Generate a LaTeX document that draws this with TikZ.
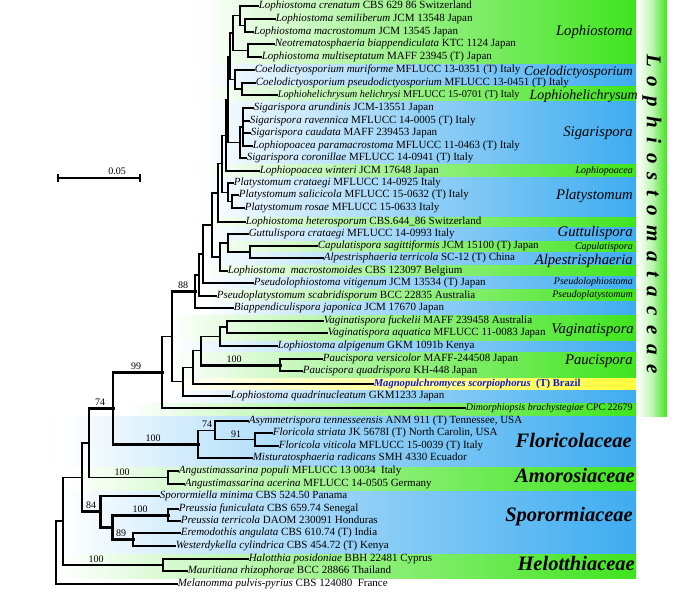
\documentclass[tikz,border=0pt]{standalone}
\usepackage{fontspec}
\setmainfont{Liberation Serif}
\usetikzlibrary{calc}
\definecolor{gr}{RGB}{64,228,30}
\definecolor{bl}{RGB}{62,172,240}
\definecolor{yl}{RGB}{255,255,60}
\definecolor{mb}{RGB}{20,20,200}
\newcommand{\lf}{\fontsize{11bp}{12bp}\selectfont}
\newcommand{\bsf}{\fontsize{10bp}{11bp}\selectfont}
\newcommand{\genf}{\fontsize{14.7bp}{16bp}\selectfont\itshape}
\newcommand{\gensf}{\fontsize{10bp}{11bp}\selectfont\itshape}
\newcommand{\famf}{\fontsize{20.5bp}{22bp}\selectfont\bfseries\itshape}
\newcommand{\spn}[1]{\textit{#1}}
\newcommand{\mybandx}[4]{\shade[left color=white,right color=#3,middle color=#3!55] (#4,#1) rectangle (636,#2);}
\newcommand{\edg}[3][brn]{\draw[#1] (#2 |- #3) -- (#3);}
\newcommand{\vln}[4][brn]{\draw[#1] (#2 |- #3) -- (#2 |- #4);}
\begin{document}
\begin{tikzpicture}[x=1bp,y=-1bp,
  brn/.style={line width=1.3bp,line cap=rect},
  brb/.style={line width=3bp,line cap=rect},
  leaf/.style={anchor=west,inner xsep=0.6bp,inner ysep=0pt,font=\lf,text height=7.6bp,text depth=2.5bp},
  bs/.style={anchor=south,inner sep=1bp,font=\bsf},
  gen/.style={anchor=east,inner sep=0pt,font=\genf,text height=10bp,text depth=3.5bp},
  gens/.style={anchor=east,inner sep=0pt,font=\gensf,text height=7bp,text depth=2.4bp},
  fam/.style={anchor=east,inner sep=0pt,font=\famf,text height=14bp,text depth=4.5bp}]
\useasboundingbox (0,0) rectangle (678,603);
% background bands
\mybandx{0}{65}{gr}{200}
\mybandx{65}{87}{bl}{200}
\mybandx{87}{102}{gr}{200}
\mybandx{102}{165}{bl}{200}
\mybandx{165}{178}{gr}{200}
\mybandx{178}{217}{bl}{200}
\mybandx{217}{227}{gr}{200}
\mybandx{227}{241}{bl}{200}
\mybandx{241}{252}{gr}{200}
\mybandx{252}{265}{bl}{200}
\mybandx{265}{276}{gr}{200}
\mybandx{276}{289}{bl}{200}
\mybandx{289}{301}{gr}{200}
\mybandx{301}{315}{bl}{200}
\mybandx{315}{341}{gr}{170}
\mybandx{341}{352}{bl}{170}
\mybandx{352}{378}{gr}{170}
\mybandx{378}{390}{yl}{170}
\mybandx{390}{403}{bl}{170}
\mybandx{403}{416}{gr}{130}
\mybandx{416}{467}{bl}{60}
\mybandx{467}{491}{gr}{70}
\mybandx{491}{554}{bl}{60}
\mybandx{554}{578}{gr}{60}
% family bar
\shade[left color=white,right color=gr,middle color=gr!35] (637,0) rectangle (667,416);
\node[rotate=-90,inner sep=0pt,font=\fontsize{21bp}{21bp}\selectfont\bfseries\itshape\addfontfeature{LetterSpace=45}] (fam) at (652,214) {Lophiostomataceae};
% leaves
\node[leaf] (l1) at (258,6) {\spn{Lophiostoma crenatum} CBS 629 86\ Switzerland};
\node[leaf] (l2) at (275,19) {\spn{Lophiostoma semiliberum} JCM 13548\ Japan};
\node[leaf] (l3) at (253,32) {\spn{Lophiostoma macrostomum} JCM 13545\ Japan};
\node[leaf] (l4) at (274,44) {\spn{Neotrematosphaeria biappendiculata} KTC 1124\ Japan};
\node[leaf] (l5) at (261,57) {\spn{Lophiostoma multiseptatum} MAFF 23945 (T) Japan};
\node[leaf] (l6) at (254,70) {\spn{Coelodictyosporium muriforme} MFLUCC 13-0351 (T) Italy};
\node[leaf] (l7) at (255,83) {\spn{Coelodictyosporium pseudodictyosporium} MFLUCC 13-0451 (T) Italy};
\node[leaf,font=\fontsize{10.3bp}{12bp}\selectfont] (l8) at (277,95) {\spn{Lophiohelichrysum helichrysi} MFLUCC 15-0701 (T)\ Italy};
\node[leaf] (l9) at (253,108) {\spn{Sigarispora arundinis} JCM-13551\ Japan};
\node[leaf] (l10) at (249,121) {\spn{Sigarispora ravennica} MFLUCC 14-0005 (T) Italy};
\node[leaf] (l11) at (250,133) {\spn{Sigarispora caudata} MAFF 239453\ Japan};
\node[leaf] (l12) at (252,146) {\spn{Lophiopoacea paramacrostoma} MFLUCC 11-0463 (T) Italy};
\node[leaf] (l13) at (246,158) {\spn{Sigarispora coronillae} MFLUCC 14-0941\ (T) Italy};
\node[leaf] (l14) at (259,171) {\spn{Lophiopoacea winteri} JCM 17648\ Japan};
\node[leaf] (l15) at (233,183) {\spn{Platystomum crataegi} MFLUCC 14-0925\ Italy};
\node[leaf] (l16) at (238,195) {\spn{Platystomum salicicola} MFLUCC 15-0632 (T) Italy};
\node[leaf] (l17) at (244,208) {\spn{Platystomum rosae} MFLUCC 15-0633\ Italy};
\node[leaf] (l18) at (245,222) {\spn{Lophiostoma heterosporum} CBS.644\_86\ Switzerland};
\node[leaf] (l19) at (248,234) {\spn{Guttulispora crataegi} MFLUCC 14-0993 Italy};
\node[leaf] (l20) at (317,246) {\spn{Capulatispora sagittiformis} JCM 15100 (T) Japan};
\node[leaf] (l21) at (323,258) {\spn{Alpestrisphaeria terricola} SC-12 (T) China};
\node[leaf] (l22) at (227,271) {\spn{Lophiostoma\ \ macrostomoides} CBS 123097\ Belgium};
\node[leaf] (l23) at (253,283) {\spn{Pseudolophiostoma vitigenum} JCM 13534 (T) Japan};
\node[leaf] (l24) at (216,296) {\spn{Pseudoplatystomum scabridisporum} BCC 22835\ Australia};
\node[leaf] (l25) at (233,308) {\spn{Biappendiculispora japonica} JCM 17670 Japan};
\node[leaf] (l26) at (323,321) {\spn{Vaginatispora fuckelii}\ MAFF 239458\ Australia};
\node[leaf] (l27) at (327,333) {\spn{Vaginatispora aquatica}\ MFLUCC 11-0083\ Japan};
\node[leaf] (l28) at (277,346) {\spn{Lophiostoma alpigenum} GKM 1091b\ Kenya};
\node[leaf] (l29) at (322,359) {\spn{Paucispora versicolor} MAFF-244508\ Japan};
\node[leaf] (l30) at (302,371) {\spn{Paucispora quadrispora} KH-448\ Japan};
\node[leaf,text=mb,font=\fontsize{10.6bp}{12bp}\selectfont\bfseries] (l31) at (373,384) {\spn{Magnopulchromyces scorpiophorus}\ \ (T) Brazil};
\node[leaf] (l32) at (230,396) {\spn{Lophiostoma quadrinucleatum} GKM1233\ Japan};
\node[leaf,font=\fontsize{10bp}{11bp}\selectfont] (l33) at (465,408) {\spn{Dimorphiopsis brachystegiae} CPC 22679};
\node[leaf] (l34) at (248,421) {\spn{Asymmetrispora tennesseensis} ANM 911 (T) Tennessee, USA};
\node[leaf] (l35) at (272,433) {\spn{Floricola striata} JK 5678I (T) North Carolin, USA};
\node[leaf] (l36) at (278,446) {\spn{Floricola viticola} MFLUCC 15-0039 (T) Italy};
\node[leaf] (l37) at (252,458) {\spn{Misturatosphaeria radicans} SMH 4330\ Ecuador};
\node[leaf] (l38) at (178,471) {\spn{Angustimassarina populi} MFLUCC 13 0034\ \ Italy};
\node[leaf] (l39) at (184,484) {\spn{Angustimassarina acerina} MFLUCC 14-0505\ Germany};
\node[leaf] (l40) at (159,496) {\spn{Sporormiella minima} CBS 524.50\ Panama};
\node[leaf] (l41) at (178,509) {\spn{Preussia funiculata} CBS 659.74\ Senegal};
\node[leaf] (l42) at (180,521) {\spn{Preussia terricola} DAOM 230091\ Honduras};
\node[leaf] (l43) at (180,533) {\spn{Eremodothis angulata} CBS 610.74\ (T)\ India};
\node[leaf] (l44) at (175,546) {\spn{Westerdykella cylindrica} CBS 454.72\ (T)\ Kenya};
\node[leaf] (l45) at (248,559) {\spn{Halotthia posidoniae} BBH 22481 Cyprus};
\node[leaf] (l46) at (187,571) {\spn{Mauritiana rhizophorae} BCC 28866 Thailand};
\node[leaf] (l47) at (177,584) {\spn{Melanomma pulvis-pyrius} CBS 124080\ \ France};
% internal nodes
\coordinate (nLA) at (245,25.5);
\coordinate (nLAb) at (240,15.75);
\coordinate (nLB) at (248,50.5);
\coordinate (nL) at (233,33.1);
\coordinate (nCC) at (242,89);
\coordinate (nCo) at (235,79.5);
\coordinate (nLC) at (230,56.3);
\coordinate (nSigb) at (243,127);
\coordinate (nSig) at (240,142.5);
\coordinate (nPz) at (228,99.4);
\coordinate (nPo) at (226,135.2);
\coordinate (nPS) at (232,201.5);
\coordinate (nPl) at (228,192.25);
\coordinate (nPt) at (222,163.7);
\coordinate (nPh) at (218,192.9);
\coordinate (nCA) at (250,252);
\coordinate (nGu) at (228,243);
\coordinate (nG) at (220,257);
\coordinate (nQ) at (212,225);
\coordinate (nY) at (203,254);
\coordinate (nX) at (199,275);
\coordinate (n88) at (195,291.5);
\coordinate (nVa) at (227,327);
\coordinate (nVA) at (220,336.5);
\coordinate (nPa) at (280,365);
\coordinate (nNa) at (201,350.75);
\coordinate (nNb) at (193,367.4);
\coordinate (nNc) at (183,381.7);
\coordinate (nM) at (172,336.6);
\coordinate (n99) at (162,372.3);
\coordinate (nFn) at (255,439.5);
\coordinate (nFs) at (215,430.25);
\coordinate (nF) at (198,444.1);
\coordinate (nLo) at (113,408.2);
\coordinate (nAm) at (168,477.5);
\coordinate (nLz) at (89,442.9);
\coordinate (nPr) at (168,515);
\coordinate (nEr) at (133,539.5);
\coordinate (nSt) at (112,527.25);
\coordinate (nSe) at (100,511.6);
\coordinate (nK) at (82,477.2);
\coordinate (nHe) at (163,565);
\coordinate (nIo) at (63,521.1);
\coordinate (nRoot) at (56,552.6);
% branches
\vln{nLA}{l2.west}{l3.west}\edg{nLA}{l2.west}\edg{nLA}{l3.west}
\vln{nLAb}{l1.west}{nLA}\edg{nLAb}{l1.west}\edg{nLAb}{nLA}
\vln{nLB}{l4.west}{l5.west}\edg{nLB}{l4.west}\edg{nLB}{l5.west}
\vln{nL}{nLAb}{nLB}\edg{nL}{nLAb}\edg{nL}{nLB}
\vln{nCC}{l7.west}{l8.west}\edg{nCC}{l7.west}\edg{nCC}{l8.west}
\vln{nCo}{l6.west}{nCC}\edg{nCo}{l6.west}\edg{nCo}{nCC}
\vln{nLC}{nL}{nCo}\edg{nLC}{nL}\edg{nLC}{nCo}
\vln{nSigb}{l9.west}{l12.west}\edg{nSigb}{l9.west}\edg{nSigb}{l10.west}\edg{nSigb}{l11.west}\edg{nSigb}{l12.west}
\vln{nSig}{nSigb}{l13.west}\edg{nSig}{nSigb}\edg{nSig}{l13.west}
\vln{nPz}{nLC}{nSig}\edg{nPz}{nLC}\edg{nPz}{nSig}
\vln{nPo}{nPz}{l14.west}\edg{nPo}{nPz}\edg{nPo}{l14.west}
\vln{nPS}{l16.west}{l17.west}\edg{nPS}{l16.west}\edg{nPS}{l17.west}
\vln{nPl}{l15.west}{nPS}\edg{nPl}{l15.west}\edg{nPl}{nPS}
\vln{nPt}{nPo}{nPl}\edg{nPt}{nPo}\edg{nPt}{nPl}
\vln{nPh}{nPt}{l18.west}\edg{nPh}{nPt}\edg{nPh}{l18.west}
\vln{nCA}{l20.west}{l21.west}\edg{nCA}{l20.west}\edg{nCA}{l21.west}
\vln{nGu}{l19.west}{nCA}\edg{nGu}{l19.west}\edg{nGu}{nCA}
\vln{nG}{nGu}{l22.west}\edg{nG}{nGu}\edg{nG}{l22.west}
\vln{nQ}{nPh}{nG}\edg{nQ}{nPh}\edg{nQ}{nG}
\vln{nY}{nQ}{l23.west}\edg{nY}{nQ}\edg{nY}{l23.west}
\vln{nX}{nY}{l24.west}\edg{nX}{nY}\edg{nX}{l24.west}
\vln{n88}{nX}{l25.west}\edg{n88}{nX}\edg{n88}{l25.west}
\vln{nVa}{l26.west}{l27.west}\edg{nVa}{l26.west}\edg{nVa}{l27.west}
\vln{nVA}{nVa}{l28.west}\edg{nVA}{nVa}\edg{nVA}{l28.west}
\vln{nPa}{l29.west}{l30.west}\edg{nPa}{l29.west}\edg{nPa}{l30.west}
\vln{nNa}{nVA}{nPa}\edg{nNa}{nVA}\edg[brb]{nNa}{nPa}
\vln{nNb}{nNa}{l31.west}\edg{nNb}{nNa}\edg{nNb}{l31.west}
\vln{nNc}{nNb}{l32.west}\edg{nNc}{nNb}\edg{nNc}{l32.west}
\vln{nM}{n88}{nNc}\edg[brb]{nM}{n88}\edg{nM}{nNc}
\vln{n99}{nM}{l33.west}\edg{n99}{nM}\edg{n99}{l33.west}
\vln{nFn}{l35.west}{l36.west}\edg{nFn}{l35.west}\edg{nFn}{l36.west}
\vln{nFs}{l34.west}{nFn}\edg{nFs}{l34.west}\edg{nFs}{nFn}
\vln{nF}{nFs}{l37.west}\edg{nF}{nFs}\edg{nF}{l37.west}
\vln{nLo}{n99}{nF}\edg[brb]{nLo}{n99}\edg[brb]{nLo}{nF}
\vln{nAm}{l38.west}{l39.west}\edg{nAm}{l38.west}\edg{nAm}{l39.west}
\vln{nLz}{nLo}{nAm}\edg[brb]{nLz}{nLo}\edg{nLz}{nAm}
\vln{nPr}{l41.west}{l42.west}\edg{nPr}{l41.west}\edg{nPr}{l42.west}
\vln{nEr}{l43.west}{l44.west}\edg{nEr}{l43.west}\edg{nEr}{l44.west}
\vln[brb]{nSt}{nPr}{nEr}\edg[brb]{nSt}{nPr}\edg[brb]{nSt}{nEr}
\vln[brb]{nSe}{l40.west}{nSt}\edg{nSe}{l40.west}\edg[brb]{nSe}{nSt}
\vln{nK}{nLz}{nSe}\edg{nK}{nLz}\edg[brb]{nK}{nSe}
\vln{nHe}{l45.west}{l46.west}\edg{nHe}{l45.west}\edg{nHe}{l46.west}
\vln{nIo}{nK}{nHe}\edg{nIo}{nK}\edg{nIo}{nHe}
\vln{nRoot}{nIo}{l47.west}\edg{nRoot}{nIo}\edg{nRoot}{l47.west}
% bootstrap values
\node[bs] (b88) at (183,290) {88};
\node[bs] (b99) at (136,371) {99};
\node[bs] (b74a) at (100,407) {74};
\node[bs] (b100p) at (234,364) {100};
\node[bs] (b74b) at (207,429) {74};
\node[bs] (b91) at (236,438.5) {91};
\node[bs] (b100f) at (153,443) {100};
\node[bs] (b100a) at (122,476.5) {100};
\node[bs] (b84) at (91,510) {84};
\node[bs] (b100r) at (140,514) {100};
\node[bs] (b89) at (121,538) {89};
\node[bs] (b100h) at (96,564) {100};
% genus labels
\node[gen] (g1) at (633,32) {Lophiostoma};
\node[gen,font=\fontsize{13.4bp}{15bp}\selectfont\itshape] (g2) at (633,72) {Coelodictyosporium};
\node[gen,font=\fontsize{14bp}{15bp}\selectfont\itshape] (g3) at (638,96) {Lophiohelichrysum};
\node[gen] (g4) at (633,133) {Sigarispora};
\node[gens] (g5) at (633,171) {Lophiopoacea};
\node[gen] (g6) at (633,196) {Platystomum};
\node[gen] (g7) at (633,233) {Guttulispora};
\node[gens] (g8) at (633,247) {Capulatispora};
\node[gen] (g9) at (633,261) {Alpestrisphaeria};
\node[gens] (g10) at (633,282) {Pseudolophiostoma};
\node[gens] (g11) at (633,295) {Pseudoplatystomum};
\node[gen] (g12) at (634,330) {Vaginatispora};
\node[gen] (g13) at (633,361) {Paucispora};
% family labels
\node[fam] (f1) at (632,443) {Floricolaceae};
\node[fam] (f2) at (635,478) {Amorosiaceae};
\node[fam] (f3) at (633,517) {Sporormiaceae};
\node[fam] (f4) at (635,566) {Helotthiaceae};
% scale bar
\coordinate (sa) at (58,178);
\coordinate (sb) at (140,178);
\draw[line width=1.3bp] (sa) -- (sb);
\draw[line width=1.3bp] ([yshift=-4bp]sa) -- ([yshift=4bp]sa);
\draw[line width=1.3bp] ([yshift=-4bp]sb) -- ([yshift=4bp]sb);
\node[bs] (sl) at (117,176) {0.05};
\end{tikzpicture}
\end{document}
